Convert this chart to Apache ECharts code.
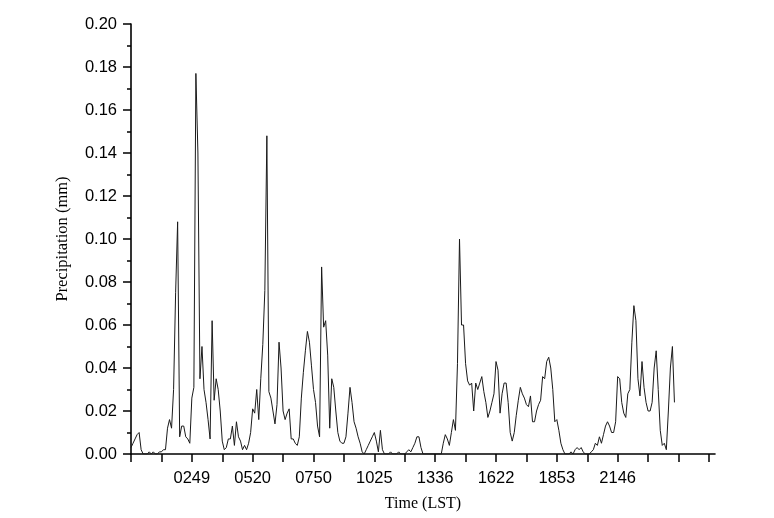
<!DOCTYPE html>
<html>
<head>
<meta charset="utf-8">
<script src="https://cdn.jsdelivr.net/npm/echarts@6/dist/echarts.min.js"></script>
<style>
html,body{margin:0;padding:0;background:#fff;}
#chart{width:774px;height:518px;}
</style>
</head>
<body>
<div id="chart"></div>
<script>
// Precipitation (mm), one value per sample
const precipitation = [
  0.003,0.005,0.007,0.009,0.010,0.002,0.000,0.000,0.000,0.001,
  0.000,0.001,0.000,0.000,0.001,0.001,0.002,0.002,0.012,0.016,
  0.012,0.030,0.075,0.108,0.008,0.013,0.013,0.008,0.007,0.005,
  0.026,0.031,0.177,0.140,0.035,0.050,0.030,0.024,0.016,0.007,
  0.062,0.025,0.035,0.030,0.020,0.006,0.002,0.003,0.007,0.007,
  0.013,0.004,0.015,0.008,0.006,0.002,0.004,0.002,0.005,0.010,
  0.021,0.019,0.030,0.016,0.035,0.051,0.076,0.148,0.029,0.026,
  0.020,0.014,0.023,0.052,0.040,0.020,0.016,0.019,0.021,0.007,
  0.007,0.005,0.004,0.008,0.026,0.038,0.048,0.057,0.052,0.041,
  0.030,0.024,0.013,0.008,0.087,0.059,0.062,0.046,0.012,0.035,
  0.031,0.020,0.010,0.006,0.005,0.005,0.008,0.019,0.031,0.024,
  0.015,0.012,0.008,0.005,0.001,0.000,0.002,0.004,0.006,0.008,
  0.010,0.006,0.001,0.011,0.002,0.000,0.000,0.000,0.001,0.000,
  0.000,0.000,0.001,0.000,0.000,0.000,0.001,0.002,0.001,0.003,
  0.005,0.008,0.008,0.003,0.000,0.000,0.000,0.000,0.000,0.000,
  0.000,0.000,0.000,0.000,0.005,0.009,0.007,0.004,0.010,0.016,
  0.011,0.042,0.100,0.060,0.060,0.042,0.034,0.032,0.033,0.020,
  0.033,0.030,0.033,0.036,0.029,0.024,0.017,0.020,0.024,0.028,
  0.043,0.039,0.019,0.028,0.033,0.033,0.024,0.010,0.006,0.010,
  0.018,0.025,0.031,0.028,0.026,0.023,0.022,0.027,0.015,0.015,
  0.020,0.023,0.025,0.036,0.035,0.043,0.045,0.040,0.030,0.015,
  0.016,0.011,0.005,0.002,0.000,0.000,0.000,0.001,0.000,0.002,
  0.003,0.002,0.003,0.001,0.000,0.000,0.000,0.001,0.002,0.005,
  0.004,0.008,0.005,0.009,0.013,0.015,0.013,0.010,0.010,0.015,
  0.036,0.035,0.024,0.019,0.017,0.028,0.030,0.052,0.069,0.062,
  0.035,0.027,0.043,0.031,0.024,0.020,0.020,0.024,0.040,0.048,
  0.030,0.011,0.004,0.005,0.002,0.020,0.040,0.050,0.024
];
// Time tick labels and the sample index where each one sits
const timeLabels = ['0249','0520','0750','1025','1336','1622','1853','2146'];
const labelIndex = [30, 60, 90, 120, 150, 180, 210, 240];
const tickStep = 15;
const axisMaxIndex = 288;

const majorTicks = [];
for (let v = 0; v <= axisMaxIndex; v += tickStep) majorTicks.push(v);

const chart = echarts.init(document.getElementById('chart'), null, {renderer: 'canvas'});
chart.setOption({
  backgroundColor: '#ffffff',
  animation: false,
  grid: {left: 131, right: 59, top: 24, bottom: 64, containLabel: false},
  xAxis: {
    type: 'value',
    min: 0,
    max: axisMaxIndex,
    name: 'Time (LST)',
    nameLocation: 'middle',
    nameGap: 42,
    nameTextStyle: {fontFamily: 'Liberation Serif', fontSize: 16, color: '#000'},
    axisLine: {show: true, onZero: false, lineStyle: {color: '#000', width: 1.6}},
    axisTick: {show: true, inside: false, length: 8, lineStyle: {color: '#000', width: 1.5}, customValues: majorTicks},
    axisLabel: {
      show: true, margin: 16, fontFamily: 'Liberation Sans', fontSize: 16.5, color: '#000',
      customValues: labelIndex,
      formatter: function (v) { const k = labelIndex.indexOf(Math.round(v)); return k >= 0 ? timeLabels[k] : ''; }
    },
    splitLine: {show: false}
  },
  yAxis: {
    type: 'value',
    min: 0,
    max: 0.2,
    interval: 0.02,
    name: 'Precipitation (mm)',
    nameLocation: 'middle',
    nameGap: 60,
    nameRotate: 90,
    nameTextStyle: {fontFamily: 'Liberation Serif', fontSize: 16.5, color: '#000'},
    axisLine: {show: true, lineStyle: {color: '#000', width: 1.6}},
    axisTick: {show: true, inside: false, length: 8, lineStyle: {color: '#000', width: 1.5}},
    minorTick: {show: true, splitNumber: 2, length: 4, lineStyle: {color: '#000', width: 1.5}},
    axisLabel: {margin: 14, fontFamily: 'Liberation Sans', fontSize: 16.5, color: '#000',
      formatter: function (v) { return v.toFixed(2); }},
    splitLine: {show: false},
    minorSplitLine: {show: false}
  },
  series: [{
    type: 'line',
    data: precipitation.map(function (v, i) { return [i, v]; }),
    showSymbol: false,
    symbol: 'none',
    lineStyle: {color: '#1a1a1a', width: 1},
    silent: true
  }]
});
</script>
</body>
</html>
